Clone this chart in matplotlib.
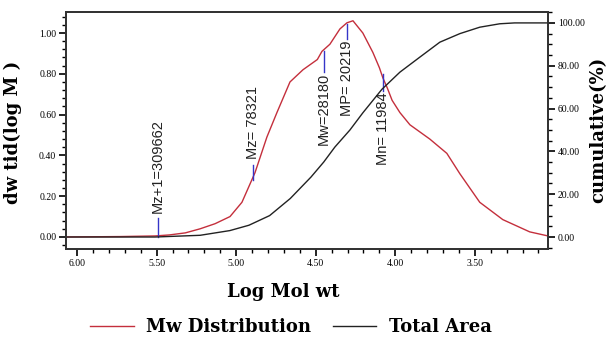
import numpy as np
import matplotlib
matplotlib.use("Agg")
import matplotlib.pyplot as plt
from matplotlib.ticker import MultipleLocator, FormatStrFormatter

# Mw distribution (dw/dlogM)
mw_logm = [6.07, 5.73, 5.51, 5.42, 5.32, 5.227, 5.133, 5.039, 4.964, 4.882,
           4.807, 4.744, 4.662, 4.58, 4.49, 4.461, 4.411, 4.348, 4.304, 4.266,
           4.204, 4.141, 4.10, 4.078, 4.05, 4.02, 3.971, 3.908, 3.783, 3.676,
           3.594, 3.469, 3.324, 3.155, 3.04]
mw_val = [0.0, 0.002, 0.005, 0.01, 0.02, 0.04, 0.065, 0.10, 0.17, 0.315,
          0.49, 0.61, 0.76, 0.82, 0.87, 0.91, 0.945, 1.02, 1.05, 1.06,
          1.00, 0.905, 0.83, 0.78, 0.73, 0.67, 0.61, 0.55, 0.48, 0.41,
          0.31, 0.17, 0.085, 0.025, 0.005]

# cumulative area (%)
cum_logm = [6.07, 5.51, 5.227, 5.04, 4.92, 4.79, 4.66, 4.53, 4.45, 4.38,
            4.285, 4.204, 4.084, 3.971, 3.846, 3.72, 3.594, 3.469, 3.343,
            3.25, 3.04]
cum_val = [0, 0, 0.8, 3, 5.5, 10, 18, 28, 35, 42,
           50, 58, 69, 77, 84, 91, 95, 98, 99.6, 100, 100]

# averages: label, log M, marker y0, marker y1, label above?
avg_names = ["Mz+1=309662", "Mz= 78321", "Mw=28180", "MP= 20219", "Mn= 11984"]
avg_logm = [5.491, 4.894, 4.45, 4.306, 4.079]
mark_lo = [0.0, 0.28, 0.81, 0.97, 0.714]
mark_hi = [0.094, 0.355, 0.91, 1.045, 0.80]
above = [True, True, False, False, False]

fig = plt.figure(figsize=(6.12, 3.38), dpi=100)
ax = fig.add_axes([66/612, 1 - 249/338, (548-66)/612, (249-12)/338])
ax2 = ax.twinx()

ax.plot(mw_logm, mw_val, color="#c42f3c", lw=1.0, zorder=3)
ax2.plot(cum_logm, cum_val, color="#222222", lw=1.0)

for name, x, y0, y1, up in zip(avg_names, avg_logm, mark_lo, mark_hi, above):
    ax.plot([x, x], [y0, y1], color="#3535c8", lw=1.0, zorder=4)
    if up:
        ax.text(x, y1 + 0.025, name, rotation=90, ha="center", va="bottom",
                fontsize=10.5, family="Liberation Sans", color="#222222")
    else:
        ax.text(x, y0 - 0.005, name, rotation=90, ha="center", va="top",
                fontsize=10.5, family="Liberation Sans", color="#222222")

ax.set_xlim(6.07, 3.04)
ax.set_ylim(-0.059, 1.103)
ax2.set_ylim(-5.6, 105.1)

ax.xaxis.set_major_locator(MultipleLocator(0.5))
ax.xaxis.set_minor_locator(MultipleLocator(0.1))
ax.yaxis.set_major_locator(MultipleLocator(0.2))
ax.yaxis.set_minor_locator(MultipleLocator(0.04))
ax2.yaxis.set_major_locator(MultipleLocator(20))
ax2.yaxis.set_minor_locator(MultipleLocator(5))
ax.xaxis.set_major_formatter(FormatStrFormatter("%.2f"))
ax.yaxis.set_major_formatter(FormatStrFormatter("%.2f"))
ax2.yaxis.set_major_formatter(FormatStrFormatter("%.2f"))

for a in (ax, ax2):
    a.tick_params(which="major", length=5, width=1.2, labelsize=7, pad=2)
    a.tick_params(which="minor", length=3, width=1.0)
    for lab in a.get_xticklabels() + a.get_yticklabels():
        lab.set_family("Liberation Serif")
    for s in a.spines.values():
        s.set_linewidth(1.3)
        s.set_color("#333333")

fig.text(13/612, 1 - 132/338, "dw tid(log M )", rotation=90, ha="center",
         va="center", fontsize=13, fontweight="bold", family="DejaVu Serif")
fig.text(598/612, 1 - 130/338, "cumulative(%)", rotation=90, ha="center",
         va="center", fontsize=13, fontweight="bold", family="DejaVu Serif")
fig.text(283/612, 1 - 292/338, "Log Mol wt", ha="center", va="center",
         fontsize=13, fontweight="bold", family="DejaVu Serif")

h1, = ax.plot([], [], color="#c42f3c", lw=1.0)
h2, = ax.plot([], [], color="#222222", lw=1.0)
fig.legend([h1, h2], ["Mw Distribution", "Total Area"], loc="center",
           bbox_to_anchor=(291/612, 1 - 327/338), ncol=2, frameon=False,
           prop={"family": "DejaVu Serif", "weight": "bold", "size": 13},
           handlelength=2.4, handletextpad=0.7, columnspacing=1.2)

fig.savefig("out.png", dpi=100)
